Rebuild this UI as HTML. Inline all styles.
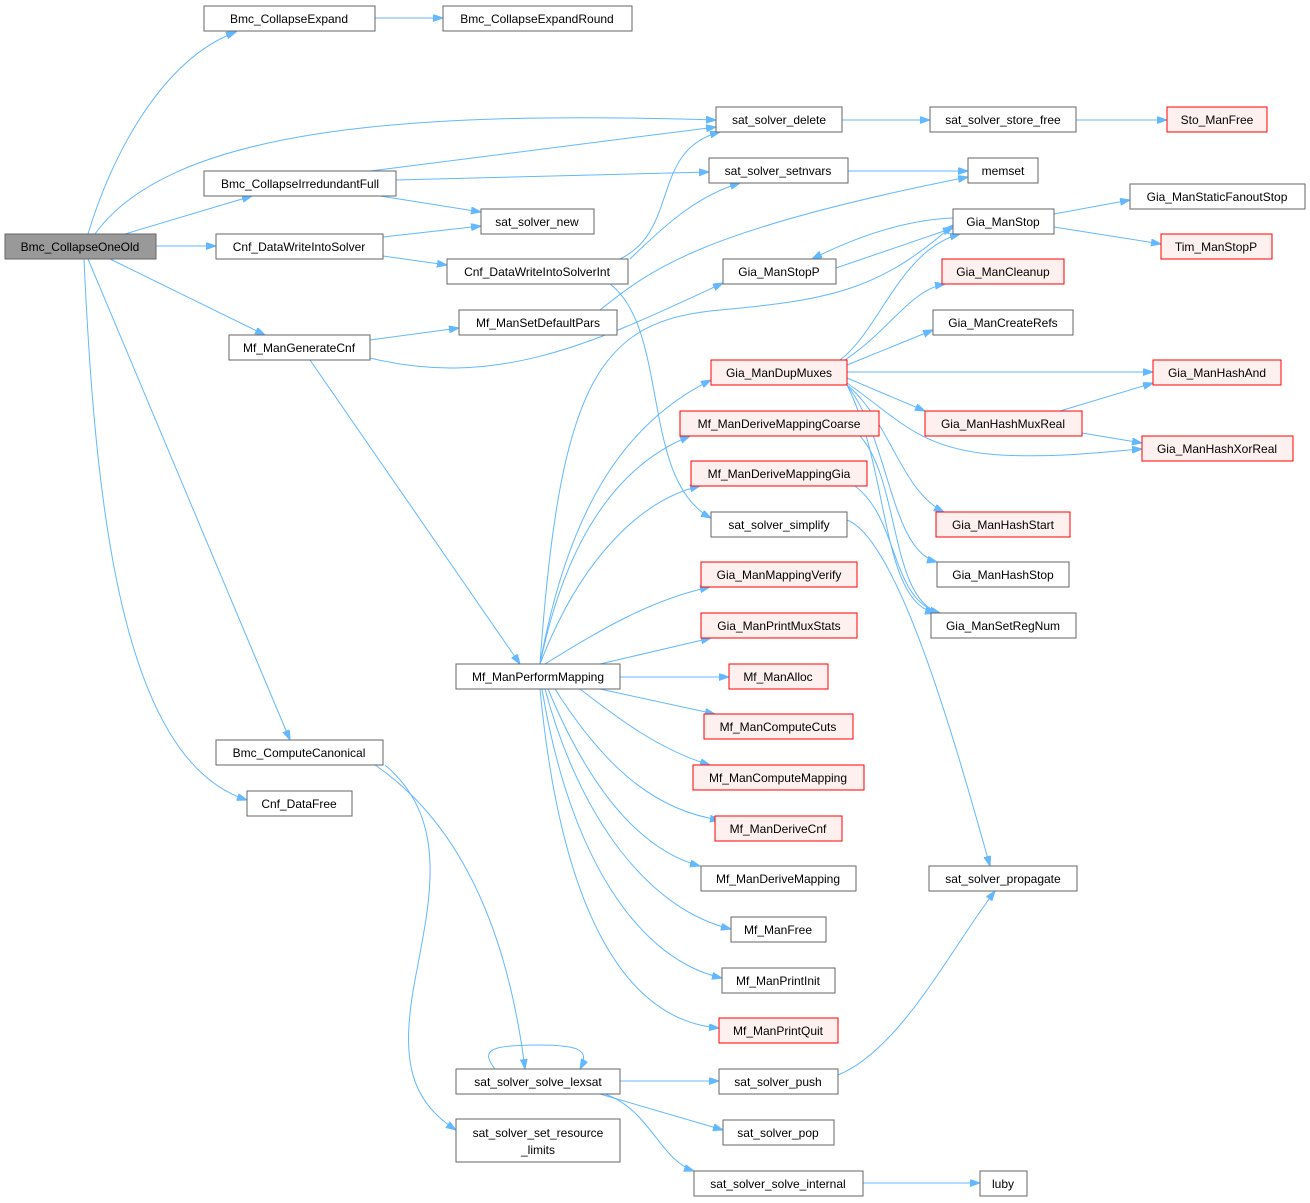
<!DOCTYPE html>
<html><head><meta charset="utf-8"><style>
html,body{margin:0;padding:0;background:#fff;}
svg{display:block;}
text{font-family:"Liberation Sans",Arial,sans-serif;font-size:12px;fill:#000;}
.n{fill:#fff;stroke:#666;stroke-width:1;}
.r{fill:#fff0f0;stroke:#ff0000;stroke-width:1;}
.g{fill:#999;stroke:#666;stroke-width:1;}
.e{fill:none;stroke:#63b8ff;stroke-width:1;marker-end:url(#a);}
</style></head><body>
<svg width="1310" height="1203" viewBox="0 0 1310 1203" xmlns="http://www.w3.org/2000/svg">
<defs><marker id="a" markerUnits="userSpaceOnUse" markerWidth="11" markerHeight="8" refX="10" refY="3.5" orient="auto"><path d="M0,0 L10,3.5 L0,7 z" fill="#63b8ff" stroke="#63b8ff"/></marker></defs>
<g>
<path class="e" d="M88,234 C110,160 160,60 236,32"/>
<path class="e" d="M95,234 C170,130 400,110 716,120"/>
<path class="e" d="M125,234 L252,196"/>
<path class="e" d="M156,246 L216,246"/>
<path class="e" d="M110,259 L265,335"/>
<path class="e" d="M88,259 L290,740"/>
<path class="e" d="M84,259 C95,500 120,760 247,800"/>
<path class="e" d="M375,18 L443,18"/>
<path class="e" d="M370,171 L716,127"/>
<path class="e" d="M396,180 L709,172"/>
<path class="e" d="M380,196 L481,212"/>
<path class="e" d="M383,237 L481,226"/>
<path class="e" d="M383,256 L447,265"/>
<path class="e" d="M620,259 C680,230 650,150 720,132"/>
<path class="e" d="M630,259 C670,220 700,195 740,183"/>
<path class="e" d="M610,284 C670,330 640,480 711,518"/>
<path class="e" d="M370,340 L459,328"/>
<path class="e" d="M370,358 C500,390 600,340 723,283"/>
<path class="e" d="M310,360 L520,664"/>
<path class="e" d="M600,310 C650,270 700,230 968,177"/>
<path class="e" d="M842,120 L930,120"/>
<path class="e" d="M1076,120 L1167,120"/>
<path class="e" d="M848,171 L968,171"/>
<path class="e" d="M1054,214 L1130,200"/>
<path class="e" d="M1054,227 L1161,244"/>
<path class="e" d="M836,268 L953,228"/>
<path class="e" d="M953,218 C900,220 850,240 812,259"/>
<path class="e" d="M540,664 C560,380 600,320 720,310 C830,300 880,290 953,225"/>
<path class="e" d="M540,664 C570,500 630,420 711,380"/>
<path class="e" d="M540,664 C570,520 630,460 690,436"/>
<path class="e" d="M540,664 C580,560 640,500 700,486"/>
<path class="e" d="M545,664 C600,630 650,600 710,587"/>
<path class="e" d="M600,664 L711,638"/>
<path class="e" d="M620,677 L729,677"/>
<path class="e" d="M600,689 L715,714"/>
<path class="e" d="M580,689 C620,720 660,750 710,765"/>
<path class="e" d="M555,689 C600,760 650,810 720,820"/>
<path class="e" d="M548,689 C590,790 640,850 700,866"/>
<path class="e" d="M545,689 C580,820 650,910 731,929"/>
<path class="e" d="M542,689 C570,860 640,960 722,978"/>
<path class="e" d="M540,689 C560,900 620,1020 719,1028"/>
<path class="e" d="M840,360 C880,330 900,250 960,234"/>
<path class="e" d="M845,360 C890,330 910,290 945,284"/>
<path class="e" d="M847,365 L933,330"/>
<path class="e" d="M847,372 L1153,372"/>
<path class="e" d="M847,378 L925,411"/>
<path class="e" d="M847,383 C900,420 920,450 1000,455 C1060,458 1100,452 1142,449"/>
<path class="e" d="M847,385 C890,420 900,490 944,512"/>
<path class="e" d="M847,385 C890,440 890,550 937,562"/>
<path class="e" d="M847,385 C890,470 880,600 935,613"/>
<path class="e" d="M1060,411 L1153,383"/>
<path class="e" d="M1082,433 L1142,443"/>
<path class="e" d="M860,436 C900,480 890,600 940,613"/>
<path class="e" d="M855,486 C900,520 890,600 940,613"/>
<path class="e" d="M847,520 C900,540 960,760 990,866"/>
<path class="e" d="M375,765 C470,830 510,950 525,1069"/>
<path class="e" d="M385,765 C450,820 430,900 415,980 C400,1060 410,1100 456,1130"/>
<path class="e" d="M495,1069 C480,1050 490,1045 538,1045 C580,1045 590,1050 580,1069"/>
<path class="e" d="M620,1081 L719,1081"/>
<path class="e" d="M600,1094 L723,1130"/>
<path class="e" d="M605,1094 C650,1110 660,1160 694,1171"/>
<path class="e" d="M863,1183 L980,1183"/>
<path class="e" d="M838,1075 C900,1050 950,950 995,891"/>
</g>
<g>
<rect class="g" x="5" y="234" width="151" height="25"/><text x="80" y="251" text-anchor="middle">Bmc_CollapseOneOld</text>
<rect class="n" x="204" y="6" width="171" height="25"/><text x="289" y="23" text-anchor="middle">Bmc_CollapseExpand</text>
<rect class="n" x="443" y="6" width="189" height="25"/><text x="537" y="23" text-anchor="middle">Bmc_CollapseExpandRound</text>
<rect class="n" x="716" y="107" width="126" height="25"/><text x="779" y="124" text-anchor="middle">sat_solver_delete</text>
<rect class="n" x="930" y="107" width="146" height="25"/><text x="1003" y="124" text-anchor="middle">sat_solver_store_free</text>
<rect class="r" x="1167" y="107" width="100" height="25"/><text x="1217" y="124" text-anchor="middle">Sto_ManFree</text>
<rect class="n" x="204" y="171" width="192" height="25"/><text x="300" y="188" text-anchor="middle">Bmc_CollapseIrredundantFull</text>
<rect class="n" x="709" y="158" width="139" height="25"/><text x="778" y="175" text-anchor="middle">sat_solver_setnvars</text>
<rect class="n" x="968" y="158" width="70" height="25"/><text x="1003" y="175" text-anchor="middle">memset</text>
<rect class="n" x="481" y="209" width="113" height="25"/><text x="537" y="226" text-anchor="middle">sat_solver_new</text>
<rect class="n" x="216" y="234" width="167" height="25"/><text x="299" y="251" text-anchor="middle">Cnf_DataWriteIntoSolver</text>
<rect class="n" x="447" y="259" width="181" height="25"/><text x="537" y="276" text-anchor="middle">Cnf_DataWriteIntoSolverInt</text>
<rect class="n" x="953" y="209" width="101" height="25"/><text x="1003" y="226" text-anchor="middle">Gia_ManStop</text>
<rect class="n" x="1130" y="184" width="175" height="25"/><text x="1217" y="201" text-anchor="middle">Gia_ManStaticFanoutStop</text>
<rect class="r" x="1161" y="234" width="111" height="25"/><text x="1216" y="251" text-anchor="middle">Tim_ManStopP</text>
<rect class="n" x="723" y="259" width="113" height="25"/><text x="779" y="276" text-anchor="middle">Gia_ManStopP</text>
<rect class="r" x="942" y="259" width="122" height="25"/><text x="1003" y="276" text-anchor="middle">Gia_ManCleanup</text>
<rect class="n" x="459" y="310" width="158" height="25"/><text x="538" y="327" text-anchor="middle">Mf_ManSetDefaultPars</text>
<rect class="n" x="229" y="335" width="141" height="25"/><text x="299" y="352" text-anchor="middle">Mf_ManGenerateCnf</text>
<rect class="n" x="933" y="310" width="140" height="25"/><text x="1003" y="327" text-anchor="middle">Gia_ManCreateRefs</text>
<rect class="r" x="711" y="360" width="136" height="25"/><text x="779" y="377" text-anchor="middle">Gia_ManDupMuxes</text>
<rect class="r" x="1153" y="360" width="128" height="25"/><text x="1217" y="377" text-anchor="middle">Gia_ManHashAnd</text>
<rect class="r" x="680" y="411" width="199" height="25"/><text x="779" y="428" text-anchor="middle">Mf_ManDeriveMappingCoarse</text>
<rect class="r" x="925" y="411" width="157" height="25"/><text x="1003" y="428" text-anchor="middle">Gia_ManHashMuxReal</text>
<rect class="r" x="1142" y="436" width="151" height="25"/><text x="1217" y="453" text-anchor="middle">Gia_ManHashXorReal</text>
<rect class="r" x="691" y="461" width="176" height="25"/><text x="779" y="478" text-anchor="middle">Mf_ManDeriveMappingGia</text>
<rect class="n" x="711" y="512" width="136" height="25"/><text x="779" y="529" text-anchor="middle">sat_solver_simplify</text>
<rect class="r" x="936" y="512" width="134" height="25"/><text x="1003" y="529" text-anchor="middle">Gia_ManHashStart</text>
<rect class="n" x="937" y="562" width="132" height="25"/><text x="1003" y="579" text-anchor="middle">Gia_ManHashStop</text>
<rect class="r" x="701" y="562" width="156" height="25"/><text x="779" y="579" text-anchor="middle">Gia_ManMappingVerify</text>
<rect class="n" x="931" y="613" width="145" height="25"/><text x="1003" y="630" text-anchor="middle">Gia_ManSetRegNum</text>
<rect class="r" x="701" y="613" width="156" height="25"/><text x="779" y="630" text-anchor="middle">Gia_ManPrintMuxStats</text>
<rect class="n" x="456" y="664" width="164" height="25"/><text x="538" y="681" text-anchor="middle">Mf_ManPerformMapping</text>
<rect class="r" x="729" y="664" width="99" height="25"/><text x="778" y="681" text-anchor="middle">Mf_ManAlloc</text>
<rect class="r" x="704" y="714" width="149" height="25"/><text x="778" y="731" text-anchor="middle">Mf_ManComputeCuts</text>
<rect class="n" x="216" y="740" width="167" height="25"/><text x="299" y="757" text-anchor="middle">Bmc_ComputeCanonical</text>
<rect class="r" x="693" y="765" width="171" height="25"/><text x="778" y="782" text-anchor="middle">Mf_ManComputeMapping</text>
<rect class="n" x="247" y="791" width="105" height="25"/><text x="299" y="808" text-anchor="middle">Cnf_DataFree</text>
<rect class="r" x="715" y="816" width="127" height="25"/><text x="778" y="833" text-anchor="middle">Mf_ManDeriveCnf</text>
<rect class="n" x="701" y="866" width="155" height="25"/><text x="778" y="883" text-anchor="middle">Mf_ManDeriveMapping</text>
<rect class="n" x="929" y="866" width="148" height="25"/><text x="1003" y="883" text-anchor="middle">sat_solver_propagate</text>
<rect class="n" x="731" y="917" width="95" height="25"/><text x="778" y="934" text-anchor="middle">Mf_ManFree</text>
<rect class="n" x="722" y="968" width="113" height="25"/><text x="778" y="985" text-anchor="middle">Mf_ManPrintInit</text>
<rect class="r" x="719" y="1018" width="119" height="25"/><text x="778" y="1035" text-anchor="middle">Mf_ManPrintQuit</text>
<rect class="n" x="456" y="1069" width="164" height="25"/><text x="538" y="1086" text-anchor="middle">sat_solver_solve_lexsat</text>
<rect class="n" x="719" y="1069" width="119" height="25"/><text x="778" y="1086" text-anchor="middle">sat_solver_push</text>
<rect class="n" x="456" y="1119" width="164" height="43"/><text x="538" y="1137" text-anchor="middle">sat_solver_set_resource</text><text x="538" y="1154" text-anchor="middle">_limits</text>
<rect class="n" x="723" y="1120" width="111" height="25"/><text x="778" y="1137" text-anchor="middle">sat_solver_pop</text>
<rect class="n" x="694" y="1171" width="169" height="25"/><text x="778" y="1188" text-anchor="middle">sat_solver_solve_internal</text>
<rect class="n" x="980" y="1171" width="47" height="25"/><text x="1003" y="1188" text-anchor="middle">luby</text>
</g>
</svg>
</body></html>
